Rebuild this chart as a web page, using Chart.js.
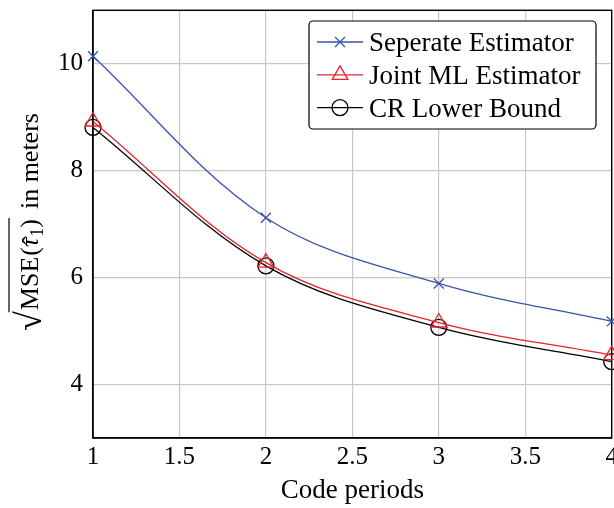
<!DOCTYPE html>
<html>
<head>
<meta charset="utf-8">
<script src="https://cdn.jsdelivr.net/npm/chart.js@4/dist/chart.umd.min.js"></script>
<style>
html, body { margin: 0; padding: 0; background: #fff; overflow: hidden; }
#wrap { width: 614px; height: 508px; position: relative; overflow: hidden; }
</style>
</head>
<body>
<div id="wrap"><canvas id="chart" width="622" height="508"></canvas></div>
<script>
// Data
const codePeriods = [1, 2, 3, 4];
const seperateEst = [10.14, 7.12, 5.89, 5.18];
const jointMlEst = [8.92, 6.28, 5.16, 4.55];
const crLowerBound = [8.81, 6.22, 5.07, 4.43];
const yTicks = [4, 6, 8, 10];
const seriesLabels = ['Seperate Estimator', 'Joint ML Estimator', 'CR Lower Bound'];

const serif = '"Liberation Serif", "DejaVu Serif", serif';
const BLUE = '#3a52ad';
const RED = '#e8232b';
const BLACK = '#000000';

function toPoints(ys) {
    return codePeriods.map((x, i) => ({ x: x, y: ys[i] }));
}

// marker drawing, used by the legend
function drawMarker(ctx, style, r, x, y, color) {
    ctx.save();
    ctx.strokeStyle = color;
    ctx.lineWidth = 1.3;
    ctx.beginPath();
    if (style === 'crossRot') {
        const d = r * Math.SQRT1_2;
        ctx.moveTo(x - d, y - d); ctx.lineTo(x + d, y + d);
        ctx.moveTo(x - d, y + d); ctx.lineTo(x + d, y - d);
    } else if (style === 'triangle') {
        const h = r * Math.sqrt(3) / 2;
        ctx.moveTo(x, y - r);
        ctx.lineTo(x + h, y + r / 2);
        ctx.lineTo(x - h, y + r / 2);
        ctx.closePath();
    } else {
        ctx.arc(x, y, r, 0, Math.PI * 2);
    }
    ctx.stroke();
    ctx.restore();
}

// frame round the plot area
const framePlugin = {
    id: 'frame',
    beforeDatasetsDraw(chart) {
        const a = chart.chartArea;
        const ctx = chart.ctx;
        ctx.save();
        ctx.strokeStyle = '#000';
        ctx.lineWidth = 1.4;
        ctx.strokeRect(a.left, a.top, a.right - a.left, a.bottom - a.top);
        ctx.restore();
    }
};

// legend inside the plot, top right
const legendPlugin = {
    id: 'boxLegend',
    afterDraw(chart) {
        const ctx = chart.ctx;
        const x0 = 309, y0 = 21, w = 287, h = 108, rad = 4;
        ctx.save();
        ctx.beginPath();
        ctx.roundRect(x0, y0, w, h, rad);
        ctx.fillStyle = '#fff';
        ctx.fill();
        ctx.strokeStyle = '#000';
        ctx.lineWidth = 1.2;
        ctx.stroke();
        ctx.font = '27px ' + serif;
        ctx.textBaseline = 'alphabetic';
        chart.data.datasets.forEach((ds, i) => {
            const cy = 42 + i * 32.8;
            ctx.strokeStyle = ds.borderColor;
            ctx.lineWidth = 1.3;
            ctx.beginPath();
            ctx.moveTo(317, cy);
            ctx.lineTo(363, cy);
            ctx.stroke();
            drawMarker(ctx, ds.pointStyle, ds.pointRadius, 340, cy, ds.borderColor);
            ctx.fillStyle = '#000';
            ctx.fillText(ds.label, 369, cy + 9);
        });
        ctx.restore();
    }
};

// rotated y axis title with a square root and overline
const yTitlePlugin = {
    id: 'yTitle',
    afterDraw(chart) {
        const ctx = chart.ctx;
        const fs = 26;
        const normal = fs + 'px ' + serif;
        const italic = 'italic ' + fs + 'px ' + serif;
        const small = '18px ' + serif;
        const root = '36px ' + serif;
        const parts = [
            { t: '√', f: root, dy: 3, gap: 0 },
            { t: 'MSE', f: normal, dy: 0, over: true, gap: 1 },
            { t: '(', f: normal, dy: 0, over: true, gap: 1 },
            { t: 'τ', f: italic, dy: 0, over: true, hat: true, gap: 0 },
            { t: '1', f: small, dy: 5, over: true, gap: 1 },
            { t: ')', f: normal, dy: 0, over: true, gap: 0 },
            { t: 'in meters', f: normal, dy: 0, gap: 10 }
        ];
        let total = 0;
        parts.forEach(p => { ctx.font = p.f; p.w = ctx.measureText(p.t).width; total += p.w + p.gap; });
        ctx.save();
        ctx.translate(38, 222);
        ctx.rotate(-Math.PI / 2);
        ctx.fillStyle = '#000';
        ctx.textBaseline = 'alphabetic';
        let x = -total / 2;
        let overStart = null, overEnd = null;
        parts.forEach(p => {
            x += p.gap;
            ctx.font = p.f;
            ctx.fillText(p.t, x, p.dy);
            if (p.hat) {
                ctx.font = normal;
                ctx.textAlign = 'center';
                ctx.fillText('ˆ', x + p.w / 2 + 2, 2);
                ctx.textAlign = 'left';
            }
            if (p.over) {
                if (overStart === null) overStart = x - 2;
                overEnd = x + p.w + 1;
            }
            x += p.w;
        });
        ctx.strokeStyle = '#000';
        ctx.lineWidth = 1.2;
        ctx.beginPath();
        ctx.moveTo(overStart, -29);
        ctx.lineTo(overEnd, -29);
        ctx.stroke();
        ctx.restore();
    }
};

const ctx = document.getElementById('chart').getContext('2d');
new Chart(ctx, {
    type: 'line',
    data: {
        datasets: [
            {
                label: seriesLabels[0],
                data: toPoints(seperateEst),
                borderColor: BLUE,
                pointStyle: 'crossRot',
                pointRadius: 7
            },
            {
                label: seriesLabels[1],
                data: toPoints(jointMlEst),
                borderColor: RED,
                pointStyle: 'triangle',
                pointRadius: 9
            },
            {
                label: seriesLabels[2],
                data: toPoints(crLowerBound),
                borderColor: BLACK,
                pointStyle: 'circle',
                pointRadius: 8
            }
        ].map(ds => Object.assign(ds, {
            borderWidth: 1.3,
            tension: 0.35,
            fill: false,
            clip: false,
            pointBorderColor: ds.borderColor,
            pointBackgroundColor: 'rgba(0,0,0,0)',
            pointBorderWidth: 1.3,
            pointHoverRadius: ds.pointRadius
        }))
    },
    options: {
        responsive: false,
        animation: false,
        events: [],
        layout: { padding: { top: 7, right: 2, left: 0, bottom: 0 } },
        plugins: {
            legend: { display: false },
            tooltip: { enabled: false }
        },
        scales: {
            x: {
                type: 'linear',
                min: 1,
                max: 4,
                afterFit(scale) {
                    scale.height = 70;
                    scale.paddingLeft = 0;
                    scale.paddingRight = 0;
                },
                ticks: {
                    stepSize: 0.5,
                    color: '#000',
                    padding: 4,
                    font: { family: serif, size: 25 },
                    callback: v => String(v)
                },
                grid: { color: '#c8c8c8', lineWidth: 1.2, drawTicks: false },
                border: { color: '#000', width: 1.4 },
                title: {
                    display: true,
                    text: 'Code periods',
                    color: '#000',
                    font: { family: serif, size: 27 },
                    padding: { top: 0, bottom: 1 }
                }
            },
            y: {
                min: 3,
                max: 11,
                afterBuildTicks(scale) {
                    scale.ticks = yTicks.map(v => ({ value: v }));
                },
                afterFit(scale) {
                    scale.width = 93;
                    scale.paddingTop = 0;
                    scale.paddingBottom = 0;
                },
                ticks: {
                    color: '#000',
                    padding: 10,
                    font: { family: serif, size: 25 }
                },
                grid: { color: '#c8c8c8', lineWidth: 1.2, drawTicks: false },
                border: { color: '#000', width: 1.4 }
            }
        }
    },
    plugins: [framePlugin, legendPlugin, yTitlePlugin]
});
</script>
</body>
</html>
